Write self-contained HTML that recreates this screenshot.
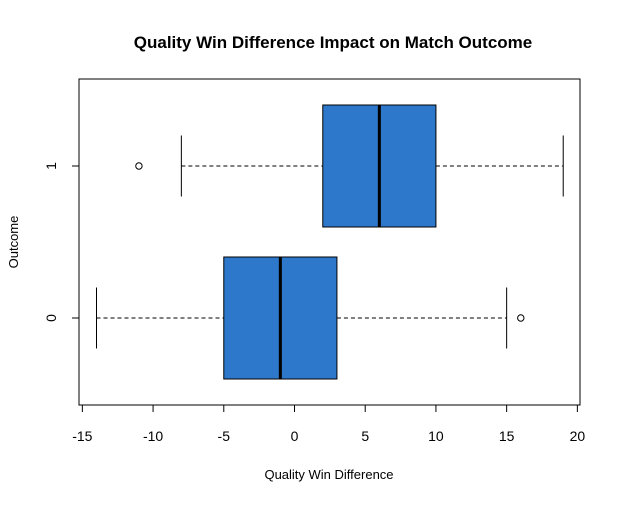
<!DOCTYPE html>
<html><head><meta charset="utf-8"><style>
body{margin:0;background:#fff;}
svg text{font-family:"Liberation Sans",Arial,sans-serif;}
</style></head><body>
<svg id="chart" width="621" height="504" xmlns="http://www.w3.org/2000/svg">
<rect width="621" height="504" fill="#fff"/>
<text x="333" y="48" text-anchor="middle" font-size="17" font-weight="bold">Quality Win Difference Impact on Match Outcome</text>
<rect x="79" y="79" width="501" height="326" fill="none" stroke="#000"/>
<text x="329" y="479" text-anchor="middle" font-size="13">Quality Win Difference</text>
<text transform="translate(18,242) rotate(-90)" text-anchor="middle" font-size="13">Outcome</text>
<g id="xaxis"></g>
<g id="yaxis"></g>
<g id="boxes"></g>
</svg>
<script>
const categories=["0","1"];
const whiskerLow=[-14,-8];
const q1=[-5,2];
const medians=[-1,6];
const q3=[3,10];
const whiskerHigh=[15,19];
const outliers=[[16],[-11]];
const xTicks=[-15,-10,-5,0,5,10,15,20];

const NS="http://www.w3.org/2000/svg";
function xs(v){return 294.5+v*14.143;}
function ys(i){return 318-i*152;}
const halfH=61;
function mk(tag,attrs,parent){const e=document.createElementNS(NS,tag);for(const k in attrs)e.setAttribute(k,attrs[k]);parent.appendChild(e);return e;}
const xa=document.getElementById('xaxis');
mk('line',{x1:xs(xTicks[0]),x2:xs(xTicks[xTicks.length-1]),y1:405,y2:405,stroke:'#000'},xa);
xTicks.forEach(t=>{
  const l=mk('line',{x1:xs(t),x2:xs(t),y1:405,y2:412,stroke:'#000'},xa);
  
  
  const tx=mk('text',{x:xs(t),y:441,'text-anchor':'middle','font-size':'14'},xa);
  tx.textContent=t;
  
  
});
const ya=document.getElementById('yaxis');
mk('line',{x1:79,x2:79,y1:ys(1),y2:ys(0),stroke:'#000'},ya);
categories.forEach((c,i)=>{
  const l=mk('line',{x1:72,x2:79,y1:ys(i),y2:ys(i),stroke:'#000'},ya);
  
  
  const tx=mk('text',{transform:`translate(56,${ys(i)}) rotate(-90)`,'text-anchor':'middle','font-size':'14'},ya);
  tx.textContent=c;
  
  
});
const bx=document.getElementById('boxes');
categories.forEach((c,i)=>{
  const y=ys(i);
  const g=mk('g',{},bx);
  
  
  mk('line',{x1:xs(whiskerLow[i]),x2:xs(q1[i]),y1:y,y2:y,stroke:'#000','stroke-dasharray':'4,3'},g);
  mk('line',{x1:xs(q3[i]),x2:xs(whiskerHigh[i]),y1:y,y2:y,stroke:'#000','stroke-dasharray':'4,3'},g);
  mk('line',{x1:xs(whiskerLow[i]),x2:xs(whiskerLow[i]),y1:y-halfH/2,y2:y+halfH/2,stroke:'#000'},g);
  mk('line',{x1:xs(whiskerHigh[i]),x2:xs(whiskerHigh[i]),y1:y-halfH/2,y2:y+halfH/2,stroke:'#000'},g);
  mk('rect',{x:xs(q1[i]),y:y-halfH,width:xs(q3[i])-xs(q1[i]),height:2*halfH,fill:'#2E78CC',stroke:'#000'},g);
  mk('line',{x1:xs(medians[i]),x2:xs(medians[i]),y1:y-halfH,y2:y+halfH,stroke:'#000','stroke-width':3},g);
  outliers[i].forEach(o=>{
    const ci=mk('circle',{cx:xs(o),cy:y,r:3.2,fill:'none',stroke:'#000'},g);
    
    
  });
});
</script>
</body></html>
